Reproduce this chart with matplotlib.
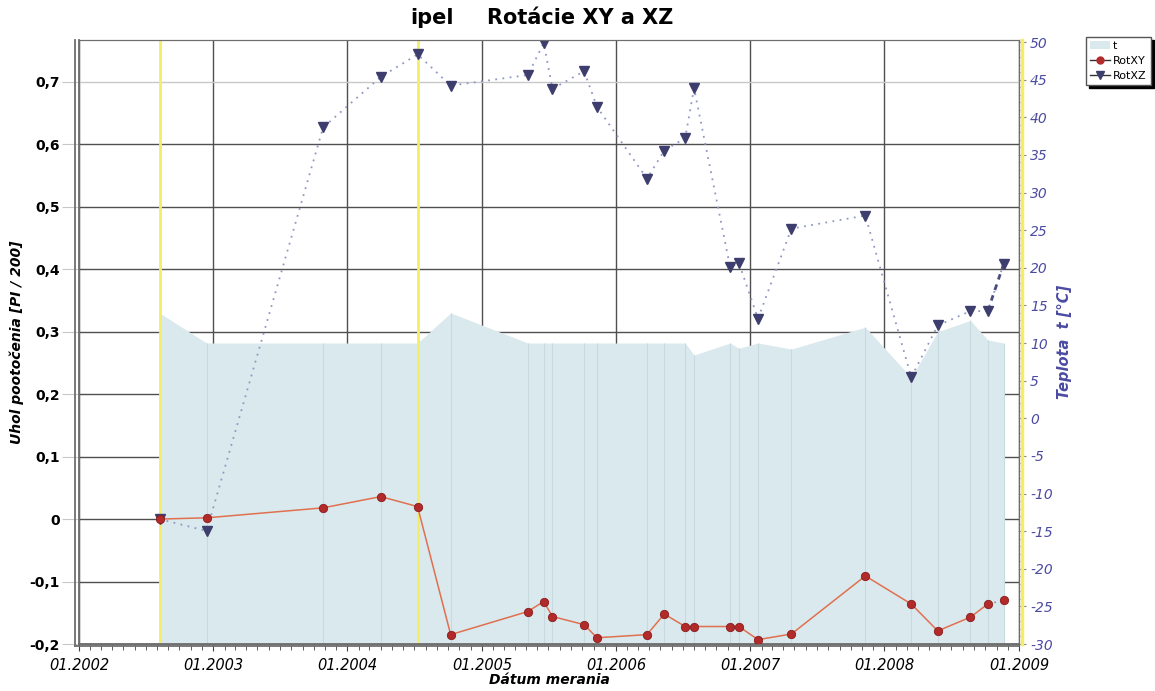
import matplotlib
matplotlib.use('Agg')
import matplotlib.pyplot as plt
import matplotlib.dates as mdates
from matplotlib.lines import Line2D
from matplotlib.patches import Patch
from matplotlib.ticker import FuncFormatter, MultipleLocator
import pandas as pd

dates = pd.to_datetime([
    '2002-08-08', '2002-12-14', '2003-10-27', '2004-04-01', '2004-07-10',
    '2004-10-08', '2005-05-06', '2005-06-18', '2005-07-12', '2005-10-06',
    '2005-11-10', '2006-03-26', '2006-05-12', '2006-07-08', '2006-08-01',
    '2006-11-07', '2006-12-01', '2007-01-22', '2007-04-23', '2007-11-10',
    '2008-03-14', '2008-05-25', '2008-08-22', '2008-10-08', '2008-11-20'])

rot_xy = [0.000, 0.002, 0.018, 0.036, 0.020,
          -0.185, -0.148, -0.132, -0.156, -0.169,
          -0.190, -0.185, -0.152, -0.172, -0.172,
          -0.172, -0.172, -0.193, -0.184, -0.091,
          -0.136, -0.179, -0.157, -0.136, -0.130]

rot_xz = [0.000, -0.019, 0.627, 0.708, 0.744,
          0.694, 0.711, 0.762, 0.689, 0.717,
          0.660, 0.545, 0.590, 0.610, 0.690,
          0.404, 0.410, 0.321, 0.465, 0.486,
          0.227, 0.310, 0.333, 0.333, 0.408]

temp = [14.0, 10.0, 10.0, 10.0, 10.0,
        14.0, 10.0, 10.0, 10.0, 10.0,
        10.0, 10.0, 10.0, 10.0, 8.4,
        10.0, 9.3, 10.0, 9.2, 12.1,
        5.4, 11.5, 13.0, 10.4, 10.0]

# yellow marker lines
marks = pd.to_datetime(['2002-08-08', '2004-07-10'])

area_col = '#dae9ed'
grid_col = '#4f4f4f'
blue_txt = '#4b4ba3'

fig = plt.figure(figsize=(11.55, 6.91), dpi=100)
ax = fig.add_axes([79 / 1155, 1 - 644 / 691, 940 / 1155, 604 / 691])
ax2 = ax.twinx()

ax.set_xlim(pd.Timestamp('2002-01-01'), pd.Timestamp('2009-01-01'))
ax.set_ylim(-0.2, 0.767)
ax2.set_ylim(-30, 50.27)

# grid under the area
ax.set_axisbelow(True)
ax.xaxis.set_major_locator(mdates.YearLocator())
ax.xaxis.set_minor_locator(mdates.MonthLocator())
ax.xaxis.set_major_formatter(mdates.DateFormatter('%m.%Y'))
ax.yaxis.set_major_locator(MultipleLocator(0.1))
ax.grid(True, which='major', color=grid_col, lw=1.0)
for v, gl in zip(ax.get_yticks(), ax.get_ygridlines()):
    if abs(v - 0.7) < 1e-6:
        gl.set_color('#c8c8c8')

# temperature area, drawn on the left axes with the right axis scale
ax.fill_between(dates, temp, -30, transform=ax2.transData,
                color=area_col, lw=0, zorder=1)
ax.vlines(dates, -30, temp, transform=ax2.transData,
          color='#c6dadf', lw=0.8, zorder=1.1)

for m in marks:
    ax.axvline(m, color='#f3ee66', lw=2, zorder=1.5)

# RotXZ
ax.plot(dates, rot_xz, ls=(0, (1, 3)), color='#8f97c4', lw=1.3, zorder=2)
ax.plot(dates[-2:], rot_xz[-2:], ls=(0, (2, 2)), color='#4a4c80', lw=2, zorder=2)
ax.plot(dates, rot_xz, ls='none', marker='v', ms=7, color='#3d3e6d', zorder=3)

# RotXY
ax.plot(dates[:-1], rot_xy[:-1], color='#e0704f', lw=1.1, zorder=2.2)
ax.plot(dates[-2:], rot_xy[-2:], ls=(0, (1, 3)), color='#9a8d8d', lw=1.2, zorder=2.2)
ax.plot(dates, rot_xy, ls='none', marker='o', ms=6, color='#b22a2a',
        mec='#8a1c1c', mew=0.6, zorder=3.2)

# axes styling
for s in ['left', 'bottom', 'top', 'right']:
    ax.spines[s].set_color('#6e6e6e')
    ax2.spines[s].set_color('#6e6e6e')
ax.spines['left'].set_linewidth(1.3)
ax.spines['bottom'].set_linewidth(1.3)
ax.add_line(Line2D([-0.0045, -0.0045], [-0.004, 1], transform=ax.transAxes,
                   color='#6e6e6e', lw=1.3, clip_on=False))
ax.add_line(Line2D([-0.0045, 1], [-0.004, -0.004], transform=ax.transAxes,
                   color='#6e6e6e', lw=1.3, clip_on=False))
ax2.add_line(Line2D([1.003, 1.003], [0, 1], transform=ax2.transAxes,
                    color='#f3ee66', lw=2.5, clip_on=False))

ax.tick_params(axis='y', which='major', length=12, color='#c8c8c8',
               labelsize=10, pad=2)
ax.tick_params(axis='x', which='major', length=5, color='#444444',
               labelsize=10.5, pad=5)
ax.tick_params(axis='x', which='minor', length=4, color='#444444')
for lbl in ax.get_yticklabels():
    lbl.set_fontweight('bold')
for lbl in ax.get_xticklabels():
    lbl.set_fontstyle('italic')
ax.yaxis.set_major_formatter(FuncFormatter(
    lambda v, p: '0' if abs(v) < 1e-9 else f'{v:.1f}'.replace('.', ',')))

ax2.yaxis.set_major_locator(MultipleLocator(5))
ax2.yaxis.set_minor_locator(MultipleLocator(1))
ax2.yaxis.set_major_formatter(FuncFormatter(lambda v, p: f'{v:.0f}'))
ax2.tick_params(axis='y', which='major', length=5, color='#888888',
                labelsize=10, labelcolor=blue_txt, pad=3)
ax2.tick_params(axis='y', which='minor', length=3, color='#aaaaaa')
for lbl in ax2.get_yticklabels():
    lbl.set_fontstyle('italic')

ax.set_xlabel('Dátum merania', fontsize=10, fontweight='bold',
              fontstyle='italic', labelpad=0)
ax.set_ylabel('Uhol pootočenia [PI / 200]', fontsize=10, fontweight='bold',
              fontstyle='italic', labelpad=4)
ax2.set_ylabel('Teplota  t [°C]', fontsize=10.5, fontweight='bold',
               fontstyle='italic', color=blue_txt, labelpad=3)

title_font = ['Liberation Sans Narrow', 'DejaVu Sans']
fig.text(432 / 1155, 1 - 18 / 691, 'ipel', ha='center', va='center',
         fontsize=15, fontweight='bold', family=title_font)
fig.text(580 / 1155, 1 - 18 / 691, 'Rotácie XY a XZ', ha='center', va='center',
         fontsize=15, fontweight='bold', family=title_font)

handles = [Patch(facecolor=area_col, edgecolor='none'),
           Line2D([], [], color='#333333', lw=1, marker='o', ms=5,
                  mfc='#b22a2a', mec='#b22a2a'),
           Line2D([], [], color='#333333', lw=1, marker='v', ms=6,
                  mfc='#3d3e6d', mec='#3d3e6d')]
fig.legend(handles, ['t', 'RotXY', 'RotXZ'], loc='upper left',
           bbox_to_anchor=(1086 / 1155, 1 - 37 / 691), fontsize=8,
           frameon=True, fancybox=False, edgecolor='#555555',
           shadow={'color': 'black', 'alpha': 1},
           handlelength=1.8, handletextpad=0.3, borderpad=0.35,
           labelspacing=0.45, borderaxespad=0)

fig.savefig('out.png', dpi=100, facecolor='white')
